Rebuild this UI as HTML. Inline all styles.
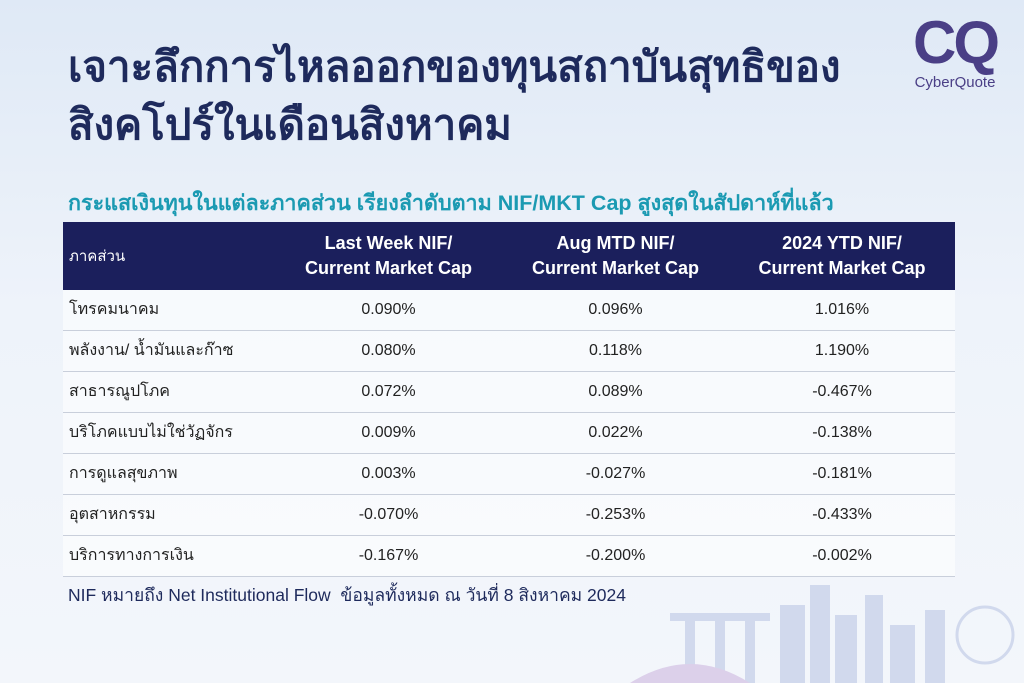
<!DOCTYPE html>
<html><head><meta charset="utf-8">
<style>
body{margin:0;width:1024px;height:683px;overflow:hidden;font-family:"Liberation Sans","Noto Sans CJK SC",sans-serif;background:linear-gradient(180deg,#dfe9f6 0%,#eef3fa 45%,#f3f6fb 100%);position:relative}
.title{position:absolute;left:68px;top:38px;font-size:42px;font-weight:bold;color:#1e2a5c;line-height:58px;white-space:nowrap}
.sub{position:absolute;left:68px;top:186px;font-size:21.5px;font-weight:bold;color:#1b9ab2;white-space:nowrap}
table{position:absolute;left:63px;top:222px;width:892px;border-collapse:collapse;font-size:16px;color:#222;table-layout:fixed}
th{background:#1b1f5c;color:#fff;height:68px;padding:0;font-size:18px;font-weight:bold;line-height:25px}
th:first-child{text-align:left;font-weight:normal;font-size:15px;padding-left:6px}
td{height:40px;padding:0;line-height:20px;border-bottom:1px solid #c9cfdb;text-align:center;background:rgba(255,255,255,0.55);overflow:hidden;white-space:nowrap}
td:first-child{text-align:left;padding-left:6px}
.note{position:absolute;left:68px;top:581px;font-size:17.5px;color:#1e2a5c;white-space:nowrap}
.logo{position:absolute;left:900px;top:12px;width:110px;text-align:center;color:#4a3f86}
</style></head><body>
<div class="title">เจาะลึกการไหลออกของทุนสถาบันสุทธิของ<br>สิงคโปร์ในเดือนสิงหาคม</div>
<div class="logo"><div style="font-size:60px;font-weight:bold;line-height:62px;letter-spacing:-3px">CQ</div><div style="font-size:15px">CyberQuote</div></div>
<div class="sub">กระแสเงินทุนในแต่ละภาคส่วน เรียงลำดับตาม NIF/MKT Cap สูงสุดในสัปดาห์ที่แล้ว</div>
<table>
<colgroup><col style="width:212px"><col style="width:227px"><col style="width:227px"><col style="width:226px"></colgroup>
<tr><th>ภาคส่วน</th><th>Last Week NIF/<br>Current Market Cap</th><th>Aug MTD NIF/<br>Current Market Cap</th><th>2024 YTD NIF/<br>Current Market Cap</th></tr>
<tr><td>โทรคมนาคม</td><td>0.090%</td><td>0.096%</td><td>1.016%</td></tr>
<tr><td>พลังงาน/ น้ำมันและก๊าซ</td><td>0.080%</td><td>0.118%</td><td>1.190%</td></tr>
<tr><td>สาธารณูปโภค</td><td>0.072%</td><td>0.089%</td><td>-0.467%</td></tr>
<tr><td>บริโภคแบบไม่ใช่วัฏจักร</td><td>0.009%</td><td>0.022%</td><td>-0.138%</td></tr>
<tr><td>การดูแลสุขภาพ</td><td>0.003%</td><td>-0.027%</td><td>-0.181%</td></tr>
<tr><td>อุตสาหกรรม</td><td>-0.070%</td><td>-0.253%</td><td>-0.433%</td></tr>
<tr><td>บริการทางการเงิน</td><td>-0.167%</td><td>-0.200%</td><td>-0.002%</td></tr>
</table>
<div class="note">NIF หมายถึง Net Institutional Flow&nbsp; ข้อมูลทั้งหมด ณ วันที่ 8 สิงหาคม 2024</div>
<svg style="position:absolute;left:630px;top:575px" width="394" height="108">
<g fill="#c9d3ea" opacity="0.8">
<rect x="150" y="30" width="25" height="78"/><rect x="180" y="10" width="20" height="98"/><rect x="205" y="40" width="22" height="68"/><rect x="235" y="20" width="18" height="88"/><rect x="260" y="50" width="25" height="58"/><rect x="295" y="35" width="20" height="73"/>
<rect x="40" y="38" width="100" height="8"/><rect x="55" y="46" width="10" height="62"/><rect x="85" y="46" width="10" height="62"/><rect x="115" y="46" width="10" height="62"/>
<circle cx="355" cy="60" r="28" fill="none" stroke="#c9d3ea" stroke-width="3"/>
<path d="M0 108 Q60 70 120 108Z" fill="#d7c7e6"/>
</g></svg>
</body></html>
